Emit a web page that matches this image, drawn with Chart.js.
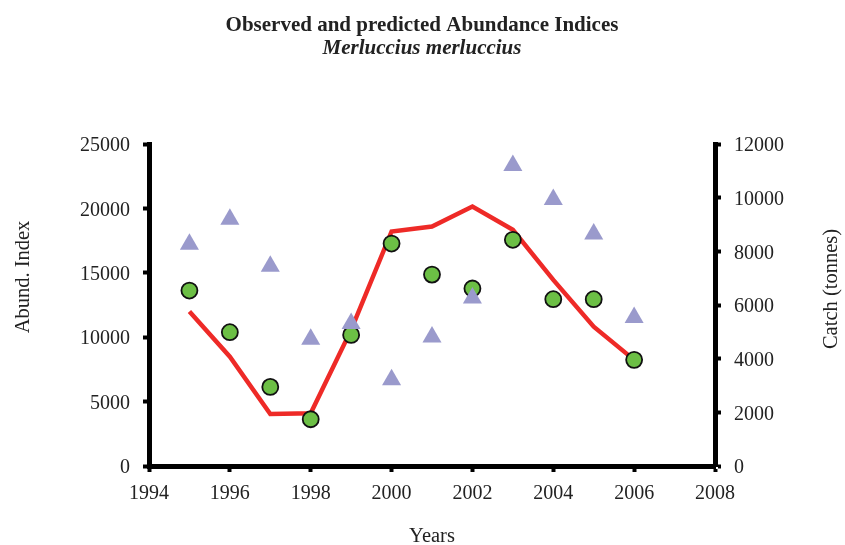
<!DOCTYPE html>
<html>
<head>
<meta charset="utf-8">
<script src="https://cdn.jsdelivr.net/npm/chart.js@4"></script>
<style>
  html, body { margin: 0; padding: 0; background: #fff; }
  #wrap { width: 845px; height: 545px; }
</style>
</head>
<body>
<div id="wrap"><canvas id="chart" width="845" height="545"></canvas></div>
<script>
// years on the x axis
const years = [1995, 1996, 1997, 1998, 1999, 2000, 2001, 2002, 2003, 2004, 2005, 2006];
// observed abundance index (green circles)
const observed = [13620, 10390, 6140, 3630, 10180, 17270, 14860, 13780, 17560, 12950, 12950, 8240];
// predicted abundance index (red line)
const predicted = [11990, 8490, 4040, 4090, 10570, 18210, 18590, 20150, 18340, 14450, 10820, 8240];
// catch in tonnes (purple triangles, right axis)
const catches = [8266, 9199, 7446, 4722, 5308, 3215, 4808, 6259, 11202, 9934, 8647, 5532];

const titleText = "Observed and predicted Abundance Indices";
const subtitleText = "Merluccius merluccius";
const serif = "'Liberation Serif', 'Times New Roman', serif";

const pts = arr => years.map((yr, i) => ({ x: yr, y: arr[i] }));

// draws the heading and the three axis titles
const textPlugin = {
    id: "texts",
    afterDraw(chart) {
        const { ctx, chartArea } = chart;
        ctx.save();
        ctx.fillStyle = "#222";
        ctx.textAlign = "center";
        ctx.textBaseline = "alphabetic";
        ctx.font = "bold 21px " + serif;
        ctx.fillText(titleText, 422, 31);
        ctx.font = "italic bold 21px " + serif;
        ctx.fillText(subtitleText, 422, 54);

        ctx.font = "20.5px " + serif;
        ctx.textBaseline = "middle";
        ctx.fillText("Years", (chartArea.left + chartArea.right) / 2, 537);

        ctx.translate(24, 277);
        ctx.rotate(-Math.PI / 2);
        ctx.fillText("Abund. Index", 0, 0);
        ctx.restore();

        ctx.save();
        ctx.fillStyle = "#222";
        ctx.font = "20.5px " + serif;
        ctx.textAlign = "center";
        ctx.textBaseline = "middle";
        ctx.translate(832, 289);
        ctx.rotate(-Math.PI / 2);
        ctx.fillText("Catch (tonnes)", 0, 0);
        ctx.restore();
    }
};

const axisStyle = {
    border: { display: true, color: "#000", width: 5 },
    grid: { display: true, drawOnChartArea: false, drawTicks: true, tickLength: 6, tickWidth: 4, tickColor: "#000" },
    ticks: { color: "#222", font: { family: serif, size: 20 }, padding: 13 }
};

new Chart(document.getElementById("chart"), {
    type: "scatter",
    data: {
        datasets: [
            {
                label: "Predicted",
                data: pts(predicted),
                showLine: true,
                borderColor: "#ee2a27",
                borderWidth: 4.5,
                pointRadius: 0,
                yAxisID: "y",
                order: 2
            },
            {
                label: "Observed",
                data: pts(observed),
                backgroundColor: "#6cbf45",
                borderColor: "#111",
                borderWidth: 1.8,
                pointRadius: 8,
                yAxisID: "y",
                order: 1
            },
            {
                label: "Catch",
                data: pts(catches),
                pointStyle: "triangle",
                backgroundColor: "#9a9acc",
                borderColor: "#9a9acc",
                borderWidth: 0,
                pointRadius: 11,
                yAxisID: "y1",
                order: 0
            }
        ]
    },
    options: {
        responsive: false,
        animation: false,
        layout: { padding: { top: 144, left: 0, right: 0, bottom: 0 } },
        plugins: {
            legend: { display: false },
            tooltip: { enabled: false },
            title: { display: false }
        },
        scales: {
            x: {
                type: "linear",
                min: 1994,
                max: 2008,
                ...axisStyle,
                ticks: { ...axisStyle.ticks, stepSize: 2, padding: 10, callback: v => String(v) },
                afterFit: s => { s.height = 79; }
            },
            y: {
                position: "left",
                min: 0,
                max: 25000,
                ...axisStyle,
                ticks: { ...axisStyle.ticks, stepSize: 5000, labelOffset: 2, callback: v => String(v) },
                afterFit: s => { s.width = 149; }
            },
            y1: {
                position: "right",
                min: 0,
                max: 12000,
                ...axisStyle,
                ticks: { ...axisStyle.ticks, stepSize: 2000, labelOffset: 2, callback: v => String(v) },
                afterFit: s => { s.width = 130; }
            }
        }
    },
    plugins: [textPlugin]
});
</script>
</body>
</html>
